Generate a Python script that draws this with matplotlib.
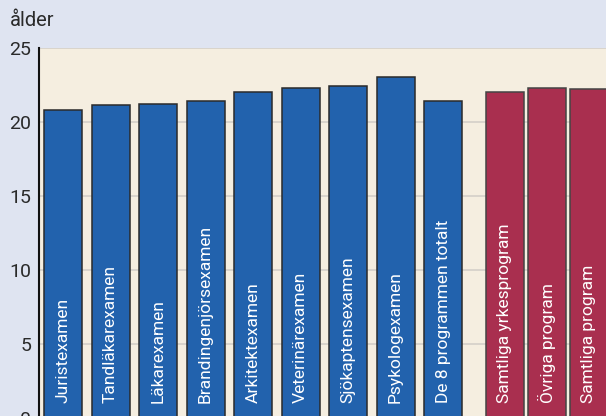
import matplotlib
matplotlib.use("Agg")
import matplotlib.pyplot as plt
import numpy as np

plt.rcParams['font.family'] = ['Roboto', 'DejaVu Sans']

prog_labels = ["Juristexamen", "Tandläkarexamen", "Läkarexamen", "Brandingenjörsexamen",
               "Arkitektexamen", "Veterinärexamen", "Sjökaptensexamen", "Psykologexamen",
               "De 8 programmen totalt"]
prog_values = [20.8, 21.1, 21.2, 21.4, 22.0, 22.3, 22.4, 23.0, 21.4]
group_labels = ["Samtliga yrkesprogram", "Övriga program", "Samtliga program"]
group_values = [22.0, 22.3, 22.2]
yticks = [0, 5, 10, 15, 20, 25]
ylabel = "ålder"

blue = "#2262ad"
red = "#a92f4f"

fig = plt.figure(figsize=(6.06, 4.16), dpi=100)
fig.patch.set_facecolor("#dfe4f1")
ax = fig.add_axes([0.0649, -0.0041, 0.9351, 0.8894])
ax.set_facecolor("#f5eee0")

x_blue = np.arange(len(prog_values))
x_red = 9.3 + 0.885 * np.arange(len(group_values))

ax.bar(x_blue, prog_values, width=0.8, color=blue, edgecolor="#2a2a2a", linewidth=1.1, zorder=3)
ax.bar(x_red, group_values, width=0.8, color=red, edgecolor="#444444", linewidth=1.1, zorder=3)

for x, lab in zip(list(x_blue) + list(x_red), prog_labels + group_labels):
    ax.text(x, 1.0, lab, rotation=90, ha="center", va="bottom", color="white",
            fontsize=12.5, zorder=4)

ax.set_xlim(-0.5, 11.43)
ax.set_ylim(0, 25)
ax.set_yticks(yticks)
ax.set_yticklabels([str(t) for t in yticks], fontsize=14, color="#2a2a2a")
ax.tick_params(axis="y", length=0, pad=6)
ax.set_xticks([])
ax.yaxis.grid(True, color="#d6d2ca", linewidth=1.3, zorder=0)
for s in ["top", "right", "bottom"]:
    ax.spines[s].set_visible(False)
ax.spines["left"].set_linewidth(1.5)
ax.spines["left"].set_color("#111111")

fig.text(10 / 606, 1 - 21 / 416, ylabel, fontsize=14.5, color="#2a2a2a",
         ha="left", va="center")

fig.savefig("out.png", dpi=100, facecolor=fig.get_facecolor())
